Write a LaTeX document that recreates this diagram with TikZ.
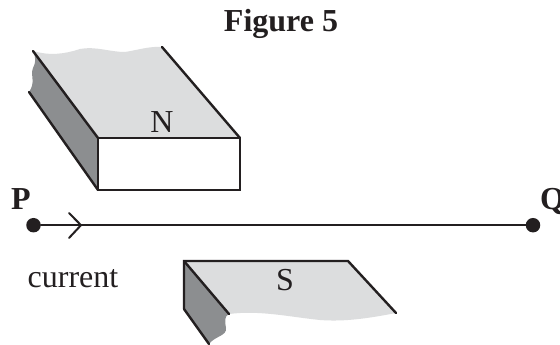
\documentclass[tikz,border=0pt]{standalone}
\usepackage{fontspec}
\setmainfont{Liberation Serif}
\definecolor{topgrey}{HTML}{DCDDDE}
\definecolor{sidegrey}{HTML}{8C8E90}
\definecolor{ink}{HTML}{231F20}
\tikzset{
  edge/.style={draw=ink,line width=2.4pt,line cap=round,line join=miter},
  wire/.style={draw=ink,line width=2pt,line cap=round,line join=miter},
  lbl/.style={inner sep=0pt,anchor=base,text=ink,font=\fontsize{32}{36}\selectfont},
  head/.style={inner sep=0pt,anchor=base,text=ink,font=\fontsize{32}{36}\selectfont\bfseries},
  dot/.style={circle,fill=ink,inner sep=0pt,minimum size=14.5pt}
}
\begin{document}
\begin{tikzpicture}[x=1pt,y=-1pt]
\useasboundingbox (0,0) rectangle (560,345);
\fill[white] (0,0) rectangle (560,345);
% N magnet
\fill[topgrey] (33,51) .. controls (50,56) and (65,54) .. (80,49) .. controls (95,46) and (110,52) .. (125,52) .. controls (138,50) and (150,46) .. (162,47) -- (240,138) -- (98,138) -- cycle;
\fill[sidegrey] (33,51) .. controls (36,58) and (36,62) .. (33,68) .. controls (30,76) and (36,82) .. (29,92) -- (98,190) -- (98,138) -- cycle;
\draw[edge] (33,51) -- (98,138);
\draw[edge] (162,47) -- (240,138);
\draw[edge] (29,92) -- (98,190);
\draw[edge,fill=white] (98,138) rectangle (240,190);
\node[lbl] (n) at (162,132) {N};
% S magnet
\fill[topgrey] (184,261) -- (348,261) -- (396,313) .. controls (370,318) and (345,322) .. (320,320) .. controls (290,317) and (260,310) .. (229,314) -- cycle;
\fill[sidegrey] (184,261) -- (229,314) .. controls (224,316) and (225,322) .. (226,328) .. controls (227,336) and (215,336) .. (209,344) -- (184,309) -- cycle;
\draw[edge] (184,309) -- (184,261) -- (348,261) -- (396,313);
\draw[edge] (184,261) -- (229,314);
\draw[edge] (184,309) -- (209,344);
\node[lbl] (s) at (285,290) {S};
% wire
\node[dot] (p) at (33.5,225.2) {};
\node[dot] (q) at (533,225.2) {};
\coordinate (tip) at (81,225.2);
\coordinate (barbA) at (69,213);
\coordinate (barbB) at (69,238);
\draw[wire] (p) -- (q);
\draw[wire] (barbA) -- (tip) -- (barbB);
% text
\node[head] (title) at (281,32) {Figure 5};
\node[head] (pl) at (21,209) {P};
\node[head] (ql) at (552.5,209) {Q};
\node[lbl] (cur) at (73,287) {current};
\end{tikzpicture}
\end{document}
